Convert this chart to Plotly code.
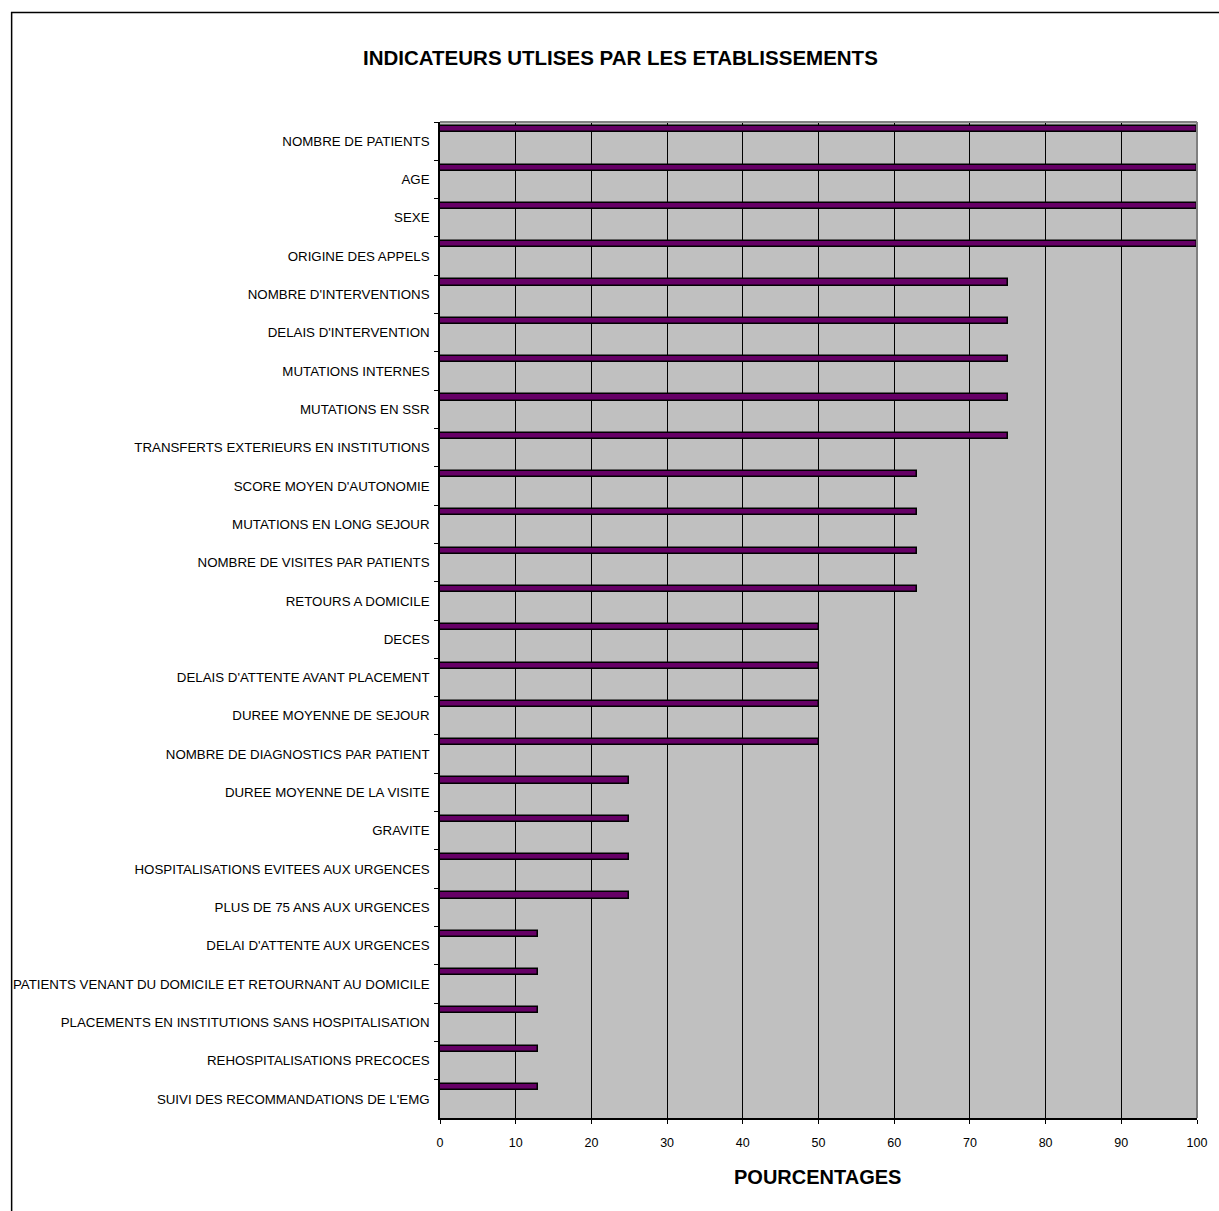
import plotly.graph_objects as go

categories = [
    "NOMBRE DE PATIENTS",
    "AGE",
    "SEXE",
    "ORIGINE DES APPELS",
    "NOMBRE D'INTERVENTIONS",
    "DELAIS D'INTERVENTION",
    "MUTATIONS INTERNES",
    "MUTATIONS EN SSR",
    "TRANSFERTS EXTERIEURS EN INSTITUTIONS",
    "SCORE MOYEN D'AUTONOMIE",
    "MUTATIONS EN LONG SEJOUR",
    "NOMBRE DE VISITES PAR PATIENTS",
    "RETOURS A DOMICILE",
    "DECES",
    "DELAIS D'ATTENTE AVANT PLACEMENT",
    "DUREE MOYENNE DE SEJOUR",
    "NOMBRE DE DIAGNOSTICS PAR PATIENT",
    "DUREE MOYENNE DE LA VISITE",
    "GRAVITE",
    "HOSPITALISATIONS EVITEES AUX URGENCES",
    "PLUS DE 75 ANS AUX URGENCES",
    "DELAI D'ATTENTE AUX URGENCES",
    "PATIENTS VENANT DU DOMICILE ET RETOURNANT AU DOMICILE",
    "PLACEMENTS EN INSTITUTIONS SANS HOSPITALISATION",
    "REHOSPITALISATIONS PRECOCES",
    "SUIVI DES RECOMMANDATIONS DE L'EMG",
]
values = [100, 100, 100, 100, 75, 75, 75, 75, 75, 63, 63, 63, 63,
          50, 50, 50, 50, 25, 25, 25, 25, 13, 13, 13, 13, 13]
x_ticks = list(range(0, 101, 10))

title_text = "INDICATEURS UTLISES PAR LES ETABLISSEMENTS"
x_title = "POURCENTAGES"

W, H = 1219, 1211
L, R, T, B = 440, 1199, 122, 1118

font = "Liberation Sans, Arial, sans-serif"

fig = go.Figure()
fig.add_trace(go.Bar(
    x=values, y=categories, orientation="h",
    marker=dict(color="#660066", line=dict(color="#000000", width=1.5)),
    offset=-0.39, width=0.16,
    hoverinfo="x+y",
))

def px_to_paper_x(px):
    return (px - L) / (R - L)

def px_to_paper_y(py):
    return (B - py) / (B - T)

fig.update_layout(
    width=W, height=H,
    margin=dict(l=L, r=W - R, t=T, b=H - B, pad=0),
    paper_bgcolor="white",
    plot_bgcolor="#C0C0C0",
    showlegend=False,
    font=dict(family=font, size=12, color="black"),
    bargap=0,
    xaxis=dict(
        range=[0, 100], tickvals=x_ticks, ticktext=[str(v) for v in x_ticks],
        showgrid=True, gridcolor="black", gridwidth=1,
        showline=True, linecolor="black", linewidth=1.5,
        ticks="outside", ticklen=4, tickcolor="black", tickwidth=1,
        ticklabelstandoff=8,
        tickfont=dict(family=font, size=12.5, color="black"),
        zeroline=False, fixedrange=True,
    ),
    yaxis=dict(
        type="category",
        categoryorder="array", categoryarray=categories,
        range=[len(categories) - 0.5, -0.5],
        tickson="boundaries",
        showgrid=False,
        showline=True, linecolor="black", linewidth=1.5,
        ticks="outside", ticklen=4, tickcolor="black", tickwidth=1,
        ticklabelstandoff=6,
        tickfont=dict(family=font, size=13.3, color="black"),
        zeroline=False, fixedrange=True,
    ),
    shapes=[
        dict(type="line", xref="paper", yref="paper", x0=0, x1=1, y0=1, y1=1,
             line=dict(color="#808080", width=2), layer="above"),
        dict(type="line", xref="paper", yref="paper", x0=1, x1=1, y0=0, y1=1,
             line=dict(color="#808080", width=2), layer="above"),
        dict(type="rect", xref="paper", yref="paper",
             x0=px_to_paper_x(10.5), x1=px_to_paper_x(W + 10),
             y0=px_to_paper_y(H + 10), y1=px_to_paper_y(12.5),
             line=dict(color="black", width=1.5), fillcolor="rgba(0,0,0,0)",
             layer="above"),
    ],
    annotations=[
        dict(text="<b>" + title_text + "</b>", xref="paper", yref="paper",
             x=px_to_paper_x(621), y=px_to_paper_y(57),
             xanchor="center", yanchor="middle", showarrow=False,
             font=dict(family=font, size=20.5, color="black")),
        dict(text="<b>" + x_title + "</b>", xref="paper", yref="paper",
             x=px_to_paper_x(818), y=px_to_paper_y(1177),
             xanchor="center", yanchor="middle", showarrow=False,
             font=dict(family=font, size=20, color="black")),
    ],
)

fig.write_html("out.html")
